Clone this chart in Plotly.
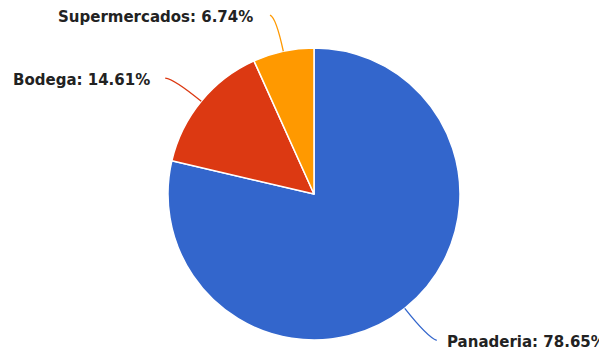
import math
import plotly.graph_objects as go

labels = ["Panaderia", "Bodega", "Supermercados"]
values = [78.65, 14.61, 6.74]
colors = ["#3366CC", "#DC3912", "#FF9900"]

OFF = 8                      # default page body margin
W, H = 607 - OFF, 352 - OFF  # figure size
cx, cy, r = 314 - OFF, 194 - OFF, 146  # pie centre / radius in figure pixels
ext = [37, 35, 35]           # connector radial extension
tail = [9, 9, 6]
tdy = [3, -1, -2]
gap = [8, 13, 15]

fig = go.Figure(go.Pie(
    labels=labels, values=values, sort=False, direction="clockwise", rotation=0,
    marker=dict(colors=colors, line=dict(color="white", width=1.5)),
    textinfo="none", hoverinfo="label+percent", showlegend=False,
    domain=dict(x=[(cx - r) / W, (cx + r) / W], y=[1 - (cy + r) / H, 1 - (cy - r) / H]),
))

def px(x, y):
    return x / W, 1 - y / H

total = sum(values)
cum = 0
shapes, annotations = [], []
for i, (lab, v, col) in enumerate(zip(labels, values, colors)):
    mid = (cum + v / 2) / total * 2 * math.pi
    cum += v
    s, c = math.sin(mid), math.cos(mid)
    p0 = (cx + r * s, cy - r * c)
    p1 = (cx + (r + ext[i]) * s, cy - (r + ext[i]) * c)
    side = 1 if s > 0 else -1
    p2 = (p1[0] + side * tail[i], p1[1] + tdy[i])
    a, b, d = px(*p0), px(*p1), px(*p2)
    shapes.append(dict(
        type="path", xref="paper", yref="paper",
        path=f"M {a[0]},{a[1]} Q {b[0]},{b[1]} {d[0]},{d[1]}",
        line=dict(color=col, width=1.3),
    ))
    tx = p2[0] + side * gap[i]
    ty = p2[1] + 2
    annotations.append(dict(
        x=tx / W, y=1 - ty / H, xref="paper", yref="paper",
        text=f"<b>{lab}: {v:.2f}%</b>", showarrow=False,
        xanchor="left" if side > 0 else "right", yanchor="middle",
        font=dict(family="DejaVu Sans", size=15, color="#222222"),
    ))

fig.update_layout(
    width=W, height=H, margin=dict(l=0, r=0, t=0, b=0),
    paper_bgcolor="white", plot_bgcolor="white",
    shapes=shapes, annotations=annotations,
)
fig.write_html("out.html")
